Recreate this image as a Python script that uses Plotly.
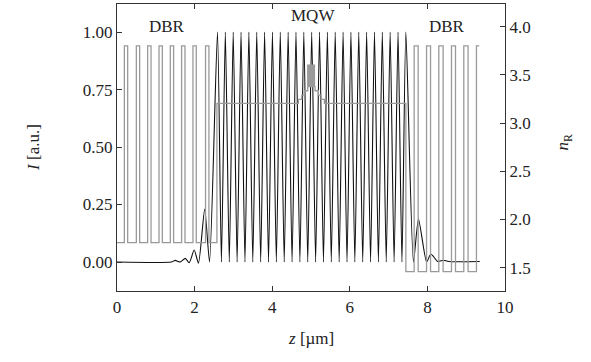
import plotly.graph_objects as go

# ---------------- data ----------------
# Optical intensity I(z) (evanescent tails + 25 MQW antinodes)
I_z = [0.00, 1.40, 1.50, 1.63, 1.76, 1.86, 1.99, 2.10, 2.26, 2.385,
       2.590, 2.691, 2.792, 2.894, 2.995, 3.096, 3.197, 3.298, 3.399, 3.500,
       3.602, 3.703, 3.804, 3.905, 4.006, 4.107, 4.208, 4.310, 4.411, 4.512,
       4.613, 4.714, 4.815, 4.916, 5.018, 5.119, 5.220, 5.321, 5.422, 5.523,
       5.624, 5.726, 5.827, 5.928, 6.029, 6.130, 6.231, 6.333, 6.434, 6.535,
       6.636, 6.737, 6.838, 6.939, 7.040, 7.142, 7.243, 7.344, 7.445,
       7.640, 7.770, 7.980, 8.090, 8.270, 8.410, 8.550, 9.350]
I_val = [0.000, 0.000, 0.007, 0.000, 0.016, -0.003, 0.052, -0.005, 0.230, 0.000,
         1.0, 0.0, 1.0, 0.0, 1.0, 0.0, 1.0, 0.0, 1.0, 0.0,
         1.0, 0.0, 1.0, 0.0, 1.0, 0.0, 1.0, 0.0, 1.0, 0.0,
         1.0, 0.0, 1.0, 0.0, 1.0, 0.0, 1.0, 0.0, 1.0, 0.0,
         1.0, 0.0, 1.0, 0.0, 1.0, 0.0, 1.0, 0.0, 1.0, 0.0,
         1.0, 0.0, 1.0, 0.0, 1.0, 0.0, 1.0, 0.0, 1.0,
         0.000, 0.187, 0.000, 0.035, 0.002, 0.008, 0.002, 0.002]

# Refractive index profile n_R(z): layer start positions and layer indices
n_z = [0.000, 0.190, 0.275, 0.499, 0.584, 0.790, 0.877, 1.083, 1.168, 1.374,
       1.459, 1.665, 1.752, 1.958, 2.043, 2.282, 2.369, 2.575,
       4.675, 4.762, 4.829, 4.916,
       4.932, 4.948, 4.963, 4.979, 4.995, 5.010, 5.026, 5.042, 5.057, 5.073, 5.089,
       5.104, 5.190, 5.260, 5.345,
       7.445, 7.659, 7.762, 7.978, 8.081, 8.294, 8.405, 8.621, 8.724, 8.938,
       9.048, 9.264, 9.336]
n_val = [1.76, 3.80, 1.76, 3.80, 1.76, 3.80, 1.76, 3.80, 1.76, 3.80,
         1.76, 3.80, 1.76, 3.80, 1.76, 3.80, 1.76, 3.205,
         3.245, 3.29, 3.335, 3.60,
         3.378, 3.60, 3.378, 3.60, 3.378, 3.60, 3.378, 3.60, 3.378, 3.60, 3.378,
         3.335, 3.29, 3.245, 3.205,
         1.46, 3.80, 1.46, 3.80, 1.46, 3.80, 1.46, 3.80, 1.46, 3.80,
         1.46, 3.80, 3.80]

x_ticks = [0, 2, 4, 6, 8, 10]
I_ticks = [0.00, 0.25, 0.50, 0.75, 1.00]
n_ticks = [1.5, 2.0, 2.5, 3.0, 3.5, 4.0]

region_labels = ["DBR", "MQW", "DBR"]
region_z = [1.28, 5.05, 8.51]
region_I = [1.026, 1.074, 1.026]

# ---------------- figure ----------------
FONT = "Liberation Serif, Times New Roman, serif"
AX = "#333333"
TXT = "#222222"

fig = go.Figure()
fig.add_trace(go.Scatter(x=n_z, y=n_val, mode="lines", line_shape="hv",
                         line=dict(color="#9a9a9a", width=1.3),
                         yaxis="y2", showlegend=False, hoverinfo="skip"))
fig.add_trace(go.Scatter(x=I_z, y=I_val, mode="lines", line_shape="spline",
                         line=dict(color="#111111", width=1.1, smoothing=0.6),
                         showlegend=False, hoverinfo="skip"))

for lab, zx, iy in zip(region_labels, region_z, region_I):
    fig.add_annotation(x=zx, y=iy, xref="x", yref="y", text=lab, showarrow=False,
                       font=dict(family=FONT, size=17, color=TXT))

fig.add_annotation(x=-0.245, y=0.5, xref="paper", yref="paper",
                   text="<i>I</i> [a.u.]", textangle=-90, showarrow=False,
                   font=dict(family=FONT, size=17, color=TXT))
fig.add_annotation(x=0.5, y=-0.206, xref="paper", yref="paper",
                   text="<i>z</i> [µm]", showarrow=False,
                   font=dict(family=FONT, size=17, color=TXT))
fig.add_annotation(x=1.185, y=0.52, xref="paper", yref="paper",
                   text="<i>n</i><sub>R</sub>", textangle=-90, showarrow=False,
                   font=dict(family=FONT, size=17, color=TXT))

common = dict(showgrid=False, zeroline=False, ticks="inside", ticklen=5,
              tickwidth=1, tickcolor=AX, linecolor=AX, linewidth=1.2,
              tickfont=dict(family=FONT, size=17, color=TXT))

fig.update_layout(
    width=591, height=362,
    margin=dict(l=117, r=86, t=4, b=71),
    paper_bgcolor="white", plot_bgcolor="white",
    hovermode=False,
    xaxis=dict(range=[0, 10], tickvals=x_ticks, mirror="ticks", showline=True,
               **common),
    yaxis=dict(range=[-0.126, 1.122], tickvals=I_ticks, tickformat=".2f",
               showline=True, **common),
    yaxis2=dict(range=[1.258, 4.235], tickvals=n_ticks, tickformat=".1f",
                overlaying="y", side="right", showline=True, **common),
)

fig.write_html("out.html",
               config={"displayModeBar": False, "staticPlot": True},
               post_script="document.body.style.margin='0px';"
                           "document.body.style.padding='0px';")
